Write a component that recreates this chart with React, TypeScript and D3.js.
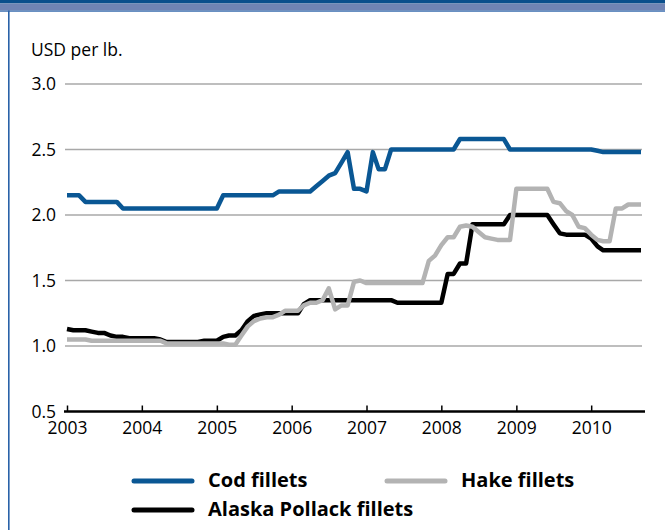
import { useEffect, useRef } from "react";
import {
  axisBottom,
  axisLeft,
  format,
  line,
  range,
  scaleLinear,
  scaleTime,
  select,
  timeFormat,
  timeMonth,
  timeYear
} from "d3";

// monthly prices, Jan 2003 .. Sep 2010, USD per lb.
const cod = [
  2.15, 2.15, 2.15,
  2.1, 2.1, 2.1, 2.1, 2.1, 2.1,
  2.05, 2.05, 2.05, 2.05, 2.05, 2.05, 2.05, 2.05, 2.05, 2.05, 2.05, 2.05, 2.05, 2.05, 2.05, 2.05,
  2.15, 2.15, 2.15, 2.15, 2.15, 2.15, 2.15, 2.15, 2.15,
  2.18, 2.18, 2.18, 2.18, 2.18, 2.18,
  2.22, 2.26, 2.3, 2.32, 2.4, 2.48, 2.2, 2.2, 2.18, 2.48, 2.35, 2.35,
  2.5, 2.5, 2.5, 2.5, 2.5, 2.5, 2.5, 2.5, 2.5, 2.5, 2.5,
  2.58, 2.58, 2.58, 2.58, 2.58, 2.58, 2.58, 2.58,
  2.5, 2.5, 2.5, 2.5, 2.5, 2.5, 2.5, 2.5, 2.5, 2.5, 2.5, 2.5, 2.5, 2.5,
  2.49, 2.48, 2.48, 2.48, 2.48, 2.48, 2.48, 2.48
];

const hake = [
  1.05, 1.05, 1.05, 1.05,
  1.04, 1.04, 1.04, 1.04, 1.04, 1.04, 1.04, 1.04, 1.04, 1.04, 1.04, 1.04,
  1.02, 1.02, 1.02, 1.02, 1.02, 1.02, 1.02, 1.02, 1.02, 1.02,
  1.01, 1.01,
  1.08, 1.15, 1.19, 1.21, 1.22, 1.22, 1.24, 1.27, 1.27, 1.27,
  1.31, 1.33, 1.33, 1.35, 1.44, 1.28, 1.31, 1.31, 1.49, 1.5,
  1.48, 1.48, 1.48, 1.48, 1.48, 1.48, 1.48, 1.48, 1.48, 1.48,
  1.65, 1.69, 1.77, 1.83, 1.83, 1.91, 1.92, 1.91, 1.87, 1.83, 1.82, 1.81, 1.81, 1.81,
  2.2, 2.2, 2.2, 2.2, 2.2, 2.2,
  2.1, 2.09, 2.03, 2.0, 1.91, 1.9, 1.85, 1.81, 1.8, 1.8, 2.05, 2.05, 2.08, 2.08, 2.08
];

const pollack = [
  1.13, 1.12, 1.12, 1.12, 1.11, 1.1, 1.1, 1.08, 1.07, 1.07,
  1.06, 1.06, 1.06, 1.06, 1.06, 1.05,
  1.03, 1.03, 1.03, 1.03, 1.03, 1.03,
  1.04, 1.04, 1.04,
  1.07, 1.08, 1.08, 1.12, 1.19, 1.23, 1.24,
  1.25, 1.25, 1.25, 1.25, 1.25, 1.25,
  1.32,
  1.35, 1.35, 1.35, 1.35, 1.35, 1.35, 1.35, 1.35, 1.35, 1.35, 1.35, 1.35, 1.35, 1.35,
  1.33, 1.33, 1.33, 1.33, 1.33, 1.33, 1.33, 1.33,
  1.55, 1.55, 1.63, 1.63,
  1.93, 1.93, 1.93, 1.93, 1.93, 1.93,
  2.0, 2.0, 2.0, 2.0, 2.0, 2.0, 2.0,
  1.93, 1.86, 1.85, 1.85, 1.85, 1.85, 1.82, 1.76,
  1.73, 1.73, 1.73, 1.73, 1.73, 1.73, 1.73
];

const yTicks = [0.5, 1.0, 1.5, 2.0, 2.5, 3.0];
const unitLabel = "USD per lb.";
const seriesNames = ["Cod fillets", "Hake fillets", "Alaska Pollack fillets"];

const COD = "#0a5794";
const HAKE = "#b3b3b3";
const POLLACK = "#000000";
const FONT = "'Open Sans', sans-serif";

const start = new Date(2003, 0, 1);
const months = range(cod.length).map((i) => timeMonth.offset(start, i));

const x = scaleTime()
  .domain([start, months[months.length - 1]])
  .range([67, 641]);
const y = scaleLinear().domain([0.5, 3]).range([411.5, 84]);

const path = line<number>()
  .x((_, i) => x(months[i]))
  .y((d) => y(d));

function AxisBottom() {
  const ref = useRef<SVGGElement>(null);
  useEffect(() => {
    if (!ref.current) return;
    const g = select(ref.current);
    g.call(
      axisBottom(x)
        .ticks(timeYear.every(1))
        .tickFormat((d) => timeFormat("%Y")(d as Date))
        .tickSizeInner(-6)
        .tickSizeOuter(0)
        .tickPadding(10)
    );
    g.select(".domain").attr("stroke", "#000").attr("stroke-width", 2.5)
      .attr("d", `M${x.range()[0] - 3},0H${x.range()[1] + 4}`);
    g.selectAll(".tick line").attr("stroke", "#000").attr("stroke-width", 1.5);
    g.selectAll(".tick text")
      .attr("fill", "#000")
      .style("font-family", FONT)
      .style("font-size", "17.5px");
  }, []);
  return <g ref={ref} transform={`translate(0, ${y(0.5)})`} />;
}

function AxisLeft() {
  const ref = useRef<SVGGElement>(null);
  useEffect(() => {
    if (!ref.current) return;
    const g = select(ref.current);
    g.call(
      axisLeft(y)
        .tickValues(yTicks)
        .tickFormat((d) => format(".1f")(d as number))
        .tickSize(0)
        .tickPadding(9)
    );
    g.select(".domain").remove();
    g.selectAll(".tick text")
      .attr("fill", "#000")
      .style("font-family", FONT)
      .style("font-size", "17.5px");
  }, []);
  return <g ref={ref} transform={`translate(65, 0)`} />;
}

export default function App() {
  const legend = [
    { name: seriesNames[0], color: COD, lx: 134, ly: 481 },
    { name: seriesNames[1], color: HAKE, lx: 387, ly: 481 },
    { name: seriesNames[2], color: POLLACK, lx: 134, ly: 510 }
  ];
  return (
    <svg
      width={665}
      height={530}
      style={{ position: "fixed", left: 0, top: 0, background: "#fff" }}
    >
      {/* frame */}
      <rect x={0} y={0} width={665} height={3.5} fill="#0b4f8c" />
      <rect x={0} y={3.5} width={665} height={7} fill="#7184b4" />
      <rect x={0} y={10.5} width={665} height={1.2} fill="#2a62a8" />
      <rect x={8} y={10.5} width={1.6} height={520} fill="#2a62a8" />

      <text x={31} y={56} fontFamily={FONT} fontSize={17.5} fill="#000">
        {unitLabel}
      </text>

      {yTicks.slice(1).map((t) => (
        <line
          key={t}
          x1={65}
          x2={642}
          y1={y(t)}
          y2={y(t)}
          stroke="#a8a8a8"
          strokeWidth={1.4}
        />
      ))}

      <AxisLeft />
      <AxisBottom />

      <path d={path(pollack) ?? ""} fill="none" stroke={POLLACK} strokeWidth={4.5} strokeLinejoin="round" />
      <path d={path(hake) ?? ""} fill="none" stroke={HAKE} strokeWidth={4.5} strokeLinejoin="round" />
      <path d={path(cod) ?? ""} fill="none" stroke={COD} strokeWidth={4.5} strokeLinejoin="round" />

      {legend.map((l) => (
        <g key={l.name}>
          <line
            x1={l.lx}
            x2={l.lx + 58}
            y1={l.ly}
            y2={l.ly}
            stroke={l.color}
            strokeWidth={5}
            strokeLinecap="round"
          />
          <text
            x={l.lx + 74}
            y={l.ly + 6}
            fontFamily={FONT}
            fontWeight="bold"
            fontSize={20}
            fill="#000"
          >
            {l.name}
          </text>
        </g>
      ))}
    </svg>
  );
}
